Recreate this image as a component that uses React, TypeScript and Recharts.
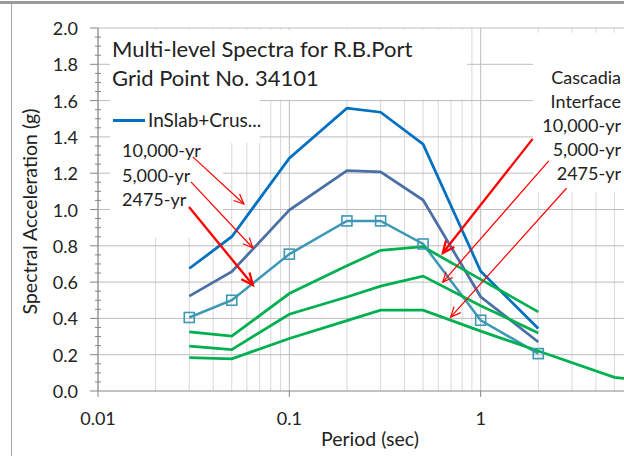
import React from "react";
import {
  CartesianGrid,
  Line,
  LineChart,
  ReferenceArea,
  ReferenceLine,
  XAxis,
  YAxis,
} from "recharts";

// periods (sec) shared by most curves
const periods = [0.03, 0.05, 0.1, 0.2, 0.3, 0.5, 1, 2];
// the 2475-yr interface curve runs out to long periods
const periodsLong = [0.03, 0.05, 0.1, 0.2, 0.3, 0.5, 1, 2, 5, 10];

// InSlab + Crustal spectra (g)
const inSlab10000 = [0.675, 0.85, 1.283, 1.558, 1.536, 1.36, 0.66, 0.344];
const inSlab5000 = [0.523, 0.657, 0.997, 1.214, 1.207, 1.052, 0.519, 0.27];
const inSlab2475 = [0.405, 0.5, 0.754, 0.937, 0.937, 0.81, 0.39, 0.206];

// Cascadia interface spectra (g)
const cascadia10000 = [0.326, 0.302, 0.537, 0.69, 0.775, 0.795, 0.615, 0.436];
const cascadia5000 = [0.247, 0.228, 0.423, 0.518, 0.578, 0.633, 0.47, 0.32];
const cascadia2475 = [0.184, 0.177, 0.289, 0.388, 0.445, 0.445, 0.33, 0.22, 0.075, 0.04];

// labelled decades; the 10 s decade only gets a grid line
const xTicks = [0.01, 0.1, 1];
const xDecades = [0.01, 0.1, 1, 10];
const xMinorGrid = [0.01, 0.1, 1].flatMap((d) => [2, 3, 4, 5, 6, 7, 8, 9].map((m) => +(d * m).toPrecision(2)));
const yGrid = [0.2, 0.4, 0.6, 0.8, 1.0, 1.2, 1.4, 1.6, 1.8, 2.0];
const yTicks = Array.from({ length: 41 }, (_, i) => Math.round(i * 5) / 100);

const BLUE = "#0070C0";
const SLATE = "#4A6FA5";
const TEAL = "#3D98B5";
const GREEN = "#00B050";
const AXIS = "#868686";
const INK = "#222";
const FONT = "Lato, 'Open Sans', sans-serif";

const toPoints = (xs: number[], ys: number[]) => xs.map((period, i) => ({ period, sa: ys[i] }));

const curves = [
  { key: "is10000", data: toPoints(periods, inSlab10000), color: BLUE, width: 2.75, squares: false },
  { key: "is5000", data: toPoints(periods, inSlab5000), color: SLATE, width: 2.75, squares: false },
  { key: "is2475", data: toPoints(periods, inSlab2475), color: TEAL, width: 2.5, squares: true },
  { key: "cs10000", data: toPoints(periods, cascadia10000), color: GREEN, width: 2.75, squares: false },
  { key: "cs5000", data: toPoints(periods, cascadia5000), color: GREEN, width: 2.75, squares: false },
  { key: "cs2475", data: toPoints(periodsLong, cascadia2475), color: GREEN, width: 2.75, squares: false },
];

// white panels behind the text boxes (period range, Sa range)
const panels = [
  { x: [0.01155, 0.848], y: [1.604, 1.99] },
  { x: [0.01155, 0.0703], y: [1.367, 1.604] },
  { x: [0.01155, 0.045], y: [0.843, 1.384] },
  { x: [1.877, 10], y: [1.097, 1.974] },
];

// callout arrows: tail -> head, in period / Sa
const arrows = [
  { from: { x: 0.0313, y: 1.29 }, to: { x: 0.0579, y: 1.03 }, heavy: false },
  { from: { x: 0.0306, y: 1.152 }, to: { x: 0.0645, y: 0.788 }, heavy: false },
  { from: { x: 0.0299, y: 1.014 }, to: { x: 0.0645, y: 0.584 }, heavy: true },
  { from: { x: 1.87, y: 1.389 }, to: { x: 0.634, y: 0.76 }, heavy: true },
  { from: { x: 2.27, y: 1.268 }, to: { x: 0.634, y: 0.6 }, heavy: false },
  { from: { x: 2.81, y: 1.117 }, to: { x: 0.697, y: 0.407 }, heavy: false },
];

const leftNotes = ["10,000-yr", "5,000-yr", "2475-yr"];
const rightNotes = ["Cascadia", "Interface", "10,000-yr", "5,000-yr", "2475-yr"];

function XTick(props: any) {
  const { x, y, payload } = props;
  return (
    <g>
      <line x1={x} x2={x} y1={y} y2={y + 6} stroke={AXIS} />
      <text x={x} y={y + 34} textAnchor="middle" fontSize={18} fill={INK}>
        {String(payload.value)}
      </text>
    </g>
  );
}

function YTick(props: any) {
  const { x, y, payload } = props;
  const v = payload.value as number;
  const major = Math.abs(v * 5 - Math.round(v * 5)) < 1e-6;
  if (!major) return <line x1={x - 3} x2={x + 3} y1={y} y2={y} stroke={AXIS} />;
  return (
    <g>
      <line x1={x - 8} x2={x} y1={y} y2={y} stroke={AXIS} />
      <text x={x - 20} y={y + 7} textAnchor="end" fontSize={18} fill={INK}>
        {v.toFixed(1)}
      </text>
    </g>
  );
}

function SquareDot(props: any) {
  const { cx, cy, index } = props;
  return (
    <rect key={`sq-${index}`} x={cx - 5} y={cy - 5} width={10} height={10} fill="none" stroke={TEAL} strokeWidth={1.6} />
  );
}

function arrowShape(heavy: boolean) {
  return (props: any) => {
    const { x1, y1, x2, y2 } = props;
    const ang = Math.atan2(y2 - y1, x2 - x1);
    const len = heavy ? 13 : 11;
    const spread = 0.42;
    const a = [x2 - len * Math.cos(ang - spread), y2 - len * Math.sin(ang - spread)];
    const b = [x2 - len * Math.cos(ang + spread), y2 - len * Math.sin(ang + spread)];
    const w = heavy ? 2.3 : 1.2;
    return (
      <g>
        <line x1={x1} y1={y1} x2={x2} y2={y2} stroke="#FF0000" strokeWidth={w} />
        <polyline points={`${a[0]},${a[1]} ${x2},${y2} ${b[0]},${b[1]}`} fill="none" stroke="#FF0000" strokeWidth={w} />
      </g>
    );
  };
}

export default function App() {
  return (
    <div
      style={{
        position: "fixed",
        left: 0,
        top: 0,
        width: 624,
        height: 456,
        overflow: "hidden",
        background: "#fff",
        fontFamily: FONT,
      }}
    >
      <div style={{ position: "absolute", left: 0, top: 0 }}>
        <LineChart width={680} height={456} margin={{ top: 28, right: 8, bottom: 0, left: 0 }}>
          <CartesianGrid horizontal={false} verticalValues={xMinorGrid} stroke="#d9d9d9" />
          <CartesianGrid horizontal={false} verticalValues={xDecades} stroke="#bdbdbd" />
          <CartesianGrid vertical={false} horizontalValues={yGrid} stroke="#bdbdbd" />
          <XAxis
            type="number"
            dataKey="period"
            scale="log"
            domain={[0.01, 10]}
            allowDataOverflow
            ticks={xTicks}
            interval={0}
            tick={<XTick />}
            tickLine={false}
            tickSize={0}
            tickMargin={0}
            axisLine={{ stroke: AXIS }}
            height={65}
            label={(p: any) => {
              const vb = p.viewBox;
              return (
                <text x={vb.x + vb.width / 2 - 15} y={vb.y + 55} textAnchor="middle" fontSize={19.5} fill={INK}>
                  Period (sec)
                </text>
              );
            }}
          />
          <YAxis
            type="number"
            domain={[0, 2]}
            ticks={yTicks}
            interval={0}
            tick={<YTick />}
            tickLine={false}
            tickSize={0}
            tickMargin={0}
            axisLine={{ stroke: AXIS }}
            width={98}
            label={(p: any) => {
              const vb = p.viewBox;
              const cy = vb.y + vb.height / 2 + 2;
              return (
                <text x={29} y={cy} transform={`rotate(-90 29 ${cy})`} textAnchor="middle" dominantBaseline="central" fontSize={19.5} fill={INK}>
                  Spectral Acceleration (g)
                </text>
              );
            }}
          />
          {panels.map((p, i) => (
            <ReferenceArea key={`panel-${i}`} x1={p.x[0]} x2={p.x[1]} y1={p.y[0]} y2={p.y[1]} fill="#fff" fillOpacity={1} stroke="none" />
          ))}
          {curves.map((c) => (
            <Line
              key={c.key}
              data={c.data}
              dataKey="sa"
              type="linear"
              stroke={c.color}
              strokeWidth={c.width}
              dot={c.squares ? SquareDot : false}
              activeDot={false}
              isAnimationActive={false}
            />
          ))}
          {arrows.map((a, i) => (
            <ReferenceLine key={`arrow-${i}`} segment={[a.from, a.to]} stroke="#FF0000" shape={arrowShape(a.heavy)} />
          ))}
        </LineChart>
      </div>

      {/* sheet borders */}
      <div style={{ position: "absolute", left: 0, top: 1, width: 624, height: 3, background: "#9a9a9a" }} />
      <div style={{ position: "absolute", left: 11, top: 4, width: 1, height: 452, background: "#a6a6a6" }} />

      <div style={{ position: "absolute", left: 112, top: 34, fontSize: 22, lineHeight: "29px", color: INK, whiteSpace: "nowrap" }}>
        Multi-level Spectra for R.B.Port
        <br />
        Grid Point No. 34101
      </div>

      <div style={{ position: "absolute", left: 113, top: 109, display: "flex", alignItems: "center", height: 22 }}>
        <div style={{ width: 32, height: 3, background: BLUE, marginRight: 3 }} />
        <span style={{ fontSize: 19, lineHeight: "22px", color: INK, whiteSpace: "nowrap" }}>InSlab+Crus...</span>
      </div>

      <div style={{ position: "absolute", left: 122, top: 138, fontSize: 18, lineHeight: "24.5px", color: INK, whiteSpace: "nowrap" }}>
        {leftNotes.map((t) => (
          <div key={t}>{t}</div>
        ))}
      </div>

      <div style={{ position: "absolute", right: 3, top: 65, fontSize: 18, lineHeight: "24px", color: INK, textAlign: "right", whiteSpace: "nowrap" }}>
        {rightNotes.map((t, i) => (
          <div key={i}>{t}</div>
        ))}
      </div>
    </div>
  );
}
